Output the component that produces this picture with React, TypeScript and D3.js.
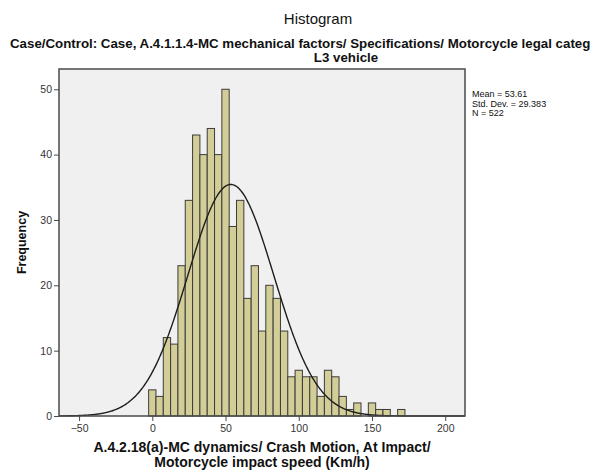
import React, { useEffect, useRef } from 'react';
import * as d3 from 'd3';

// bins of 5 km/h, labelled by bin centre
const binCenters = [0, 5, 10, 15, 20, 25, 30, 35, 40, 45, 50, 55, 60, 65, 70, 75, 80, 85, 90, 95, 100, 105, 110, 115, 120, 125, 130, 135, 140, 145, 150, 155, 160, 165, 170];
const frequencies = [4, 3, 12, 11, 23, 33, 43, 40, 44, 40, 50, 29, 33, 18, 23, 13, 20, 18, 13, 6, 7, 6, 6, 3, 7, 6, 3, 1, 2, 0, 2, 1, 1, 0, 1];
const binWidth = 5;

const xTicks = [-50, 0, 50, 100, 150, 200];
const yTicks = [0, 10, 20, 30, 40, 50];

const mean = 53.61;
const stdDev = 29.383;
const n = 522;

const statLines = ['Mean = 53.61', 'Std. Dev. = 29.383', 'N = 522'];

const FONT = 'Arial, "Liberation Sans", sans-serif';

const App: React.FC = () => {
  const svgRef = useRef<SVGSVGElement>(null);

  useEffect(() => {
    if (!svgRef.current) return;
    const svg = d3.select(svgRef.current);
    svg.selectAll('*').remove();

    const left = 59, right = 465, top = 69, bottom = 416;

    const x = d3.scaleLinear().domain([-63.7, 213.5]).range([left, right]);
    const y = d3.scaleLinear().domain([0, 53.1]).range([bottom, top]);

    // plot background
    svg.append('rect')
      .attr('x', left).attr('y', top)
      .attr('width', right - left).attr('height', bottom - top)
      .attr('fill', '#f0f0f0');

    // bars
    svg.append('g')
      .selectAll('rect')
      .data(binCenters.map((c, i) => ({ c, f: frequencies[i] })).filter(d => d.f > 0))
      .enter()
      .append('rect')
      .attr('x', d => x(d.c - binWidth / 2))
      .attr('width', d => x(d.c + binWidth / 2) - x(d.c - binWidth / 2))
      .attr('y', d => y(d.f))
      .attr('height', d => y(0) - y(d.f))
      .attr('fill', '#d3ce97')
      .attr('stroke', '#3c3c3c')
      .attr('stroke-width', 1);

    // normal curve
    const scale = n * binWidth / (stdDev * Math.sqrt(2 * Math.PI));
    const pts = d3.range(-63.7, 213.6, 0.5).map(v => [v, scale * Math.exp(-0.5 * ((v - mean) / stdDev) ** 2)] as [number, number]);
    svg.append('path')
      .attr('d', d3.line<[number, number]>().x(d => x(d[0])).y(d => y(d[1])).curve(d3.curveBasis)(pts) || '')
      .attr('fill', 'none')
      .attr('stroke', '#1e1e1e')
      .attr('stroke-width', 1.4);

    // frame
    svg.append('rect')
      .attr('x', left).attr('y', top)
      .attr('width', right - left).attr('height', bottom - top)
      .attr('fill', 'none')
      .attr('stroke', '#4a4a4a')
      .attr('stroke-width', 1.5);

    // y axis
    const yAxis = svg.append('g').attr('transform', `translate(${left},0)`)
      .call(d3.axisLeft(y).tickValues(yTicks).tickSize(5).tickPadding(2));
    yAxis.select('.domain').remove();
    yAxis.selectAll('line').attr('stroke', '#4a4a4a');
    yAxis.selectAll('text').attr('fill', '#333').style('font-size', '10.5px').style('font-family', FONT);

    // x axis
    const xAxis = svg.append('g').attr('transform', `translate(0,${bottom})`)
      .call(d3.axisBottom(x).tickValues(xTicks).tickSize(5).tickPadding(4));
    xAxis.select('.domain').remove();
    xAxis.selectAll('line').attr('stroke', '#4a4a4a');
    xAxis.selectAll('text').attr('fill', '#333').style('font-size', '10.5px').style('font-family', FONT);

    // titles
    svg.append('text').attr('x', 318).attr('y', 24).attr('text-anchor', 'middle')
      .style('font-family', FONT).style('font-size', '15px').attr('fill', '#111')
      .text('Histogram');
    svg.append('text').attr('x', 10).attr('y', 47.5)
      .style('font-family', FONT).style('font-size', '13.3px').style('font-weight', 'bold').attr('fill', '#111')
      .text('Case/Control: Case, A.4.1.1.4-MC mechanical factors/ Specifications/ Motorcycle legal categ');
    svg.append('text').attr('x', 346).attr('y', 61.5).attr('text-anchor', 'middle')
      .style('font-family', FONT).style('font-size', '13.3px').style('font-weight', 'bold').attr('fill', '#111')
      .text('L3 vehicle');

    // axis titles
    svg.append('text')
      .attr('transform', `translate(26,${(top + bottom) / 2}) rotate(-90)`)
      .attr('text-anchor', 'middle')
      .style('font-family', FONT).style('font-size', '12.5px').style('font-weight', 'bold').attr('fill', '#111')
      .text('Frequency');
    svg.append('text').attr('x', (left + right) / 2).attr('y', 451.5).attr('text-anchor', 'middle')
      .style('font-family', FONT).style('font-size', '14px').style('font-weight', 'bold').attr('fill', '#111')
      .text('A.4.2.18(a)-MC dynamics/ Crash Motion, At Impact/');
    svg.append('text').attr('x', (left + right) / 2).attr('y', 466.5).attr('text-anchor', 'middle')
      .style('font-family', FONT).style('font-size', '14px').style('font-weight', 'bold').attr('fill', '#111')
      .text('Motorcycle impact speed (Km/h)');

    // stats
    svg.append('g').selectAll('text')
      .data(statLines)
      .enter()
      .append('text')
      .attr('x', 472)
      .attr('y', (_, i) => 97 + i * 9.5)
      .style('font-family', FONT).style('font-size', '9px').attr('fill', '#111')
      .text(d => d);
  }, []);

  return (
    <svg ref={svgRef} width={592} height={475}
      style={{ position: 'absolute', left: 0, top: 0, background: '#fff' }} />
  );
};

export default App;
